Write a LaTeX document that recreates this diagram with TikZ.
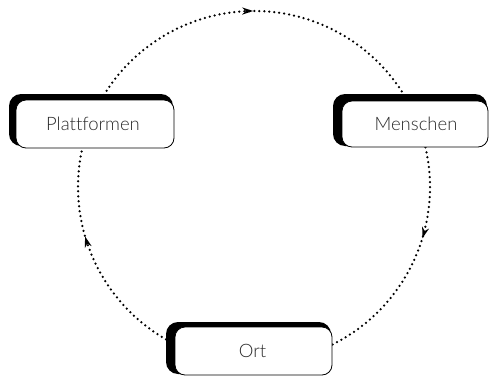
\documentclass[tikz,border=0pt]{standalone}
\usepackage{fontspec}
\setmainfont{Lato}[UprightFont=*-Light, Ligatures=NoCommon]
\usetikzlibrary{arrows.meta,decorations.markings,calc}
\definecolor{labelgray}{HTML}{2A2A2A}
\tikzset{
  x=1pt, y=1pt,
  shade box/.style={fill=black, rounded corners=12pt},
  card/.style={draw=black, line width=0.8pt, fill=white, rounded corners=10pt},
  cardlabel/.style={font=\fontsize{18.5}{22}\selectfont, text=labelgray},
  dotline/.style={line width=2.5pt, line cap=round, dash pattern=on 0pt off 5pt},
  midarrow/.style={postaction={decorate, decoration={markings,
      mark=at position #1 with {\arrow{Stealth[length=11pt,width=7pt]}}}}}
}
\begin{document}
\begin{tikzpicture}
\useasboundingbox (0,0) rectangle (490,376);
% cycle centre and radius
\coordinate (c) at (254,189);
\def\rad{176}

% dotted cycle, clockwise
\coordinate (platTop) at ($(c)+(148.5:\rad)$);
\coordinate (menTop)  at ($(c)+(32:\rad)$);
\coordinate (menBot)  at ($(c)+(13:\rad)$);
\coordinate (ortR)    at ($(c)+(-63.7:\rad)$);
\coordinate (ortL)    at ($(c)+(240:\rad)$);
\coordinate (platBot) at ($(c)+(167.2:\rad)$);
\draw[dotline, midarrow=0.5]  (platTop) arc[start angle=148.5, end angle=32, radius=\rad];
\draw[dotline, midarrow=0.39] (menBot) arc[start angle=13, end angle=-63.7, radius=\rad];
\draw[dotline, midarrow=0.6]  (ortL) arc[start angle=240, end angle=167.2, radius=\rad];

% Plattformen
\fill[shade box] (9,230) rectangle (173,282);
\draw[card] (16,228) rectangle (174,276);
\node[cardlabel] (plat) at (93,252) {Plattformen};

% Menschen
\fill[shade box] (333,230) rectangle (487,282);
\draw[card] (342,229) rectangle (488,275);
\node[cardlabel] (men) at (416,252) {Menschen};

% Ort
\fill[shade box] (166,2) rectangle (331,54);
\draw[card] (175,1) rectangle (332,49);
\node[cardlabel] (ort) at (252.5,25) {Ort};
\end{tikzpicture}
\end{document}
